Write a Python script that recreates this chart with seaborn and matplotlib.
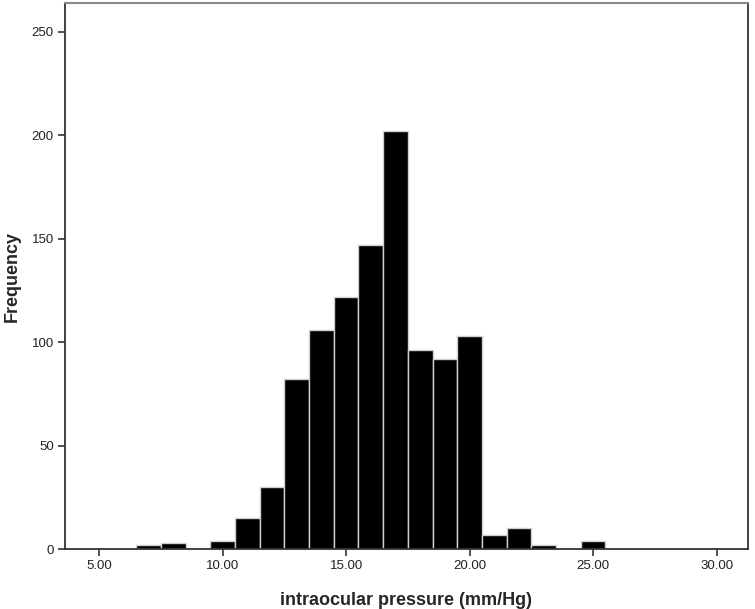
import matplotlib
matplotlib.use("Agg")
import matplotlib.pyplot as plt
import seaborn as sns
import pandas as pd

# Data: bin centres (mm/Hg) and frequencies
bin_centers = [7, 8, 9, 10, 11, 12, 13, 14, 15, 16, 17, 18, 19, 20, 21, 22, 23, 24, 25]
frequencies = [2, 3, 0, 4, 15, 30, 82, 106, 122, 147, 202, 96, 92, 103, 7, 10, 2, 0, 4]
x_ticks = [5, 10, 15, 20, 25, 30]
x_tick_labels = ["5.00", "10.00", "15.00", "20.00", "25.00", "30.00"]
y_ticks = [0, 50, 100, 150, 200, 250]

df = pd.DataFrame({"iop": bin_centers, "freq": frequencies})

sns.set_style("white")
plt.rcParams['font.family'] = ['Liberation Sans', 'DejaVu Sans']

fig = plt.figure(figsize=(7.55, 6.09), dpi=100)
ax = fig.add_axes([65/755, 1-549/609, (748-65)/755, (549-3)/609])

sns.histplot(data=df, x="iop", weights="freq", binwidth=1, binrange=(6.5, 25.5), ax=ax,
             color="black", edgecolor="#d0d0d0", linewidth=1.0, alpha=1.0)

ax.set_xlim(3.62, 31.27)
ax.set_ylim(0, 264)
ax.set_xticks(x_ticks)
ax.set_xticklabels(x_tick_labels)
ax.set_yticks(y_ticks)
ax.tick_params(axis='both', direction='out', length=5, width=1.2, color="#333333",
               labelsize=9.5, labelcolor="#222222", pad=3, bottom=True, left=True)
for side in ['left', 'bottom', 'right']:
    ax.spines[side].set_color("#333333")
    ax.spines[side].set_linewidth(1.3)
    ax.spines[side].set_visible(True)
ax.spines['top'].set_color("#888888")
ax.spines['top'].set_linewidth(1.5)
ax.spines['top'].set_visible(True)

ax.set_xlabel("intraocular pressure (mm/Hg)", fontsize=13, fontweight='bold', labelpad=14)
ax.set_ylabel("Frequency", fontsize=13, fontweight='bold', labelpad=8)

fig.savefig("out.png", dpi=100)
